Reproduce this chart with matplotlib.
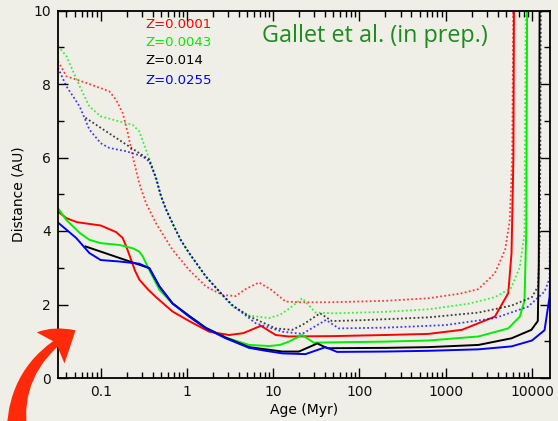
import matplotlib
matplotlib.use("Agg")
import matplotlib.pyplot as plt
from matplotlib.patches import FancyArrowPatch
from matplotlib.ticker import LogLocator, FixedLocator, NullFormatter, FixedFormatter

# ---------------- data ----------------
labels = ["Z=0.0001", "Z=0.0043", "Z=0.014", "Z=0.0255"]
colors = ["#ff0000", "#00ee00", "#000000", "#0000ff"]

red_solid_x = [0.032, 0.04, 0.053, 0.1, 0.151, 0.18, 0.2, 0.225, 0.25, 0.28, 0.35, 0.438, 0.68, 1.06, 1.81, 3.08, 4.5, 7.2, 10.7, 15, 50, 200, 632, 1540, 3720, 5320, 5800, 6100, 6200]
red_solid_y = [4.53, 4.35, 4.24, 4.15, 3.97, 3.81, 3.55, 3.22, 2.92, 2.68, 2.42, 2.2, 1.81, 1.55, 1.26, 1.17, 1.22, 1.42, 1.17, 1.13, 1.14, 1.17, 1.2, 1.31, 1.67, 2.31, 3.4, 6.0, 10.5]

red_dot_x = [0.032, 0.04, 0.068, 0.126, 0.151, 0.18, 0.206, 0.235, 0.28, 0.335, 0.438, 0.68, 1.06, 1.66, 2.58, 3.68, 4.8, 6.85, 9.5, 13.9, 20, 44, 200, 632, 1500, 2400, 3720, 4900, 5540, 5900, 6100]
red_dot_y = [8.62, 8.21, 8.03, 7.8, 7.57, 7.21, 6.67, 6.03, 5.3, 4.76, 4.21, 3.49, 2.94, 2.49, 2.26, 2.23, 2.42, 2.6, 2.4, 2.08, 2.06, 2.06, 2.1, 2.17, 2.3, 2.42, 2.85, 3.5, 4.3, 6.0, 10.5]

green_solid_x = [0.032, 0.04, 0.057, 0.074, 0.1, 0.165, 0.235, 0.28, 0.307, 0.366, 0.48, 0.68, 1.06, 1.66, 2.82, 5.25, 8.95, 12, 15.2, 21.7, 29.6, 50, 200, 632, 2400, 5320, 7240, 8200, 8600, 8800]
green_solid_y = [4.62, 4.3, 3.95, 3.76, 3.67, 3.62, 3.53, 3.44, 3.31, 2.94, 2.4, 2.03, 1.69, 1.37, 1.1, 0.9, 0.87, 0.9, 0.99, 1.17, 0.96, 0.97, 0.99, 1.02, 1.13, 1.35, 1.67, 2.1, 4.0, 10.5]

green_dot_x = [0.032, 0.04, 0.057, 0.074, 0.1, 0.165, 0.235, 0.28, 0.335, 0.4, 0.5, 0.57, 0.68, 0.85, 1.06, 1.66, 2.58, 3.37, 5.25, 8.95, 12, 15.2, 21.7, 31, 50, 200, 632, 1840, 3720, 5700, 7200, 8200, 8500]
green_dot_y = [9.03, 8.76, 7.94, 7.39, 7.12, 6.98, 6.89, 6.71, 6.21, 5.7, 4.95, 4.6, 4.21, 3.75, 3.4, 2.76, 2.26, 1.94, 1.7, 1.63, 1.72, 1.88, 2.17, 1.78, 1.76, 1.8, 1.87, 2.02, 2.2, 2.44, 3.0, 3.94, 10.5]

black_solid_x = [0.0667, 0.366, 0.48, 0.68, 1.06, 1.66, 2.82, 5.25, 12.8, 19.9, 32.5, 42.4, 200, 632, 2400, 5800, 9850, 11700, 12000, 12300]
black_solid_y = [3.58, 2.99, 2.49, 2.03, 1.69, 1.36, 1.1, 0.84, 0.72, 0.72, 0.94, 0.81, 0.82, 0.84, 0.9, 1.08, 1.31, 1.55, 3.0, 10.5]

black_dot_x = [0.0667, 0.366, 0.438, 0.5, 0.57, 0.68, 0.85, 1.06, 1.66, 2.58, 3.37, 5.25, 10.7, 16.6, 22, 35, 48, 100, 632, 2400, 5800, 10000, 11800, 12400, 12700]
black_dot_y = [7.08, 5.94, 5.45, 4.95, 4.6, 4.21, 3.75, 3.4, 2.76, 2.26, 1.98, 1.68, 1.35, 1.31, 1.45, 1.76, 1.55, 1.57, 1.65, 1.78, 1.97, 2.2, 2.5, 4.0, 10.5]

blue_solid_x = [0.032, 0.052, 0.074, 0.1, 0.165, 0.28, 0.366, 0.48, 0.68, 1.06, 1.66, 2.82, 5.25, 8.2, 12.8, 23.7, 40.5, 55, 200, 632, 2400, 5800, 10000, 14000, 16000, 17000]
blue_solid_y = [4.23, 3.81, 3.4, 3.21, 3.17, 3.11, 2.99, 2.49, 2.03, 1.67, 1.35, 1.08, 0.82, 0.74, 0.67, 0.65, 0.84, 0.71, 0.72, 0.74, 0.78, 0.86, 1.02, 1.3, 2.2, 4.0]

blue_dot_x = [0.032, 0.04, 0.057, 0.074, 0.1, 0.126, 0.197, 0.307, 0.366, 0.438, 0.5, 0.57, 0.68, 0.85, 1.06, 1.66, 2.58, 3.37, 6.27, 12.8, 21.7, 41, 57.6, 200, 1000, 3720, 9000, 14000, 16000, 16300]
blue_dot_y = [8.44, 7.94, 7.39, 6.76, 6.39, 6.26, 6.17, 6.03, 5.89, 5.45, 4.95, 4.6, 4.21, 3.75, 3.4, 2.76, 2.26, 1.98, 1.49, 1.26, 1.2, 1.58, 1.35, 1.37, 1.44, 1.63, 1.94, 2.35, 2.7, 6.0]

x_ticks = [0.1, 1, 10, 100, 1000, 10000]
x_ticklabels = ["0.1", "1", "10", "100", "1000", "10000"]
y_ticks = [0, 2, 4, 6, 8, 10]

title_text = "Gallet et al. (in prep.)"
xlabel = "Age (Myr)"
ylabel = "Distance (AU)"

# ---------------- figure ----------------
bg = "#f0efe7"
W, H = 558, 421
fig = plt.figure(figsize=(W / 100, H / 100), dpi=100, facecolor=bg)
ax = fig.add_axes([58 / W, 1 - 378 / H, (550 - 58) / W, (378 - 10.5) / H])
ax.set_facecolor(bg)

solid_lw = 1.4
dot_ls = (0, (1.0, 1.3))
dot_lw = 1.3

series = [
    (red_solid_x, red_solid_y, red_dot_x, red_dot_y, colors[0]),
    (green_solid_x, green_solid_y, green_dot_x, green_dot_y, colors[1]),
    (black_solid_x, black_solid_y, black_dot_x, black_dot_y, colors[2]),
    (blue_solid_x, blue_solid_y, blue_dot_x, blue_dot_y, colors[3]),
]
for sx, sy, dx, dy, c in series:
    ax.plot(dx, dy, color=c, lw=dot_lw, ls=dot_ls, alpha=0.75)
    ax.plot(sx, sy, color=c, lw=solid_lw)

ax.set_xscale("log")
ax.set_xlim(0.032, 16200)
ax.set_ylim(0, 10)

ax.xaxis.set_major_locator(FixedLocator(x_ticks))
ax.xaxis.set_major_formatter(FixedFormatter(x_ticklabels))
ax.xaxis.set_minor_locator(LogLocator(base=10, subs=range(2, 10), numticks=20))
ax.xaxis.set_minor_formatter(NullFormatter())
ax.set_yticks(y_ticks)
ax.set_yticks(range(0, 11), minor=True)

ax.tick_params(which="both", direction="in", top=True, right=True, color="black", width=1.0)
ax.tick_params(which="major", length=7, labelsize=10, pad=5, labelcolor="#111111")
ax.tick_params(which="minor", length=4)
for s in ax.spines.values():
    s.set_linewidth(1.3)
    s.set_color("black")

ax.set_xlabel(xlabel, fontsize=10, labelpad=3)
ax.set_ylabel(ylabel, fontsize=10, labelpad=6)

# colour legend labels
ly = [24.3, 42.7, 61, 80]
for lab, c, yy in zip(labels, colors, ly):
    fig.text(145 / W, 1 - yy / H, lab, color=c, fontsize=9.5, va="center", ha="left")

fig.text(262 / W, 1 - 36 / H, title_text, color="#1f8a1f", fontsize=16.8,
         family="Open Sans", va="center", ha="left")

# decorative red arrow
arrow = FancyArrowPatch((19 / W, -0.07), (78 / W, 1 - 329 / H),
                        transform=fig.transFigure,
                        connectionstyle="arc3,rad=-0.36",
                        arrowstyle="fancy,head_length=2.2,head_width=3.0,tail_width=1.7",
                        mutation_scale=10, color="#ff2a0a", lw=0, clip_on=False)
fig.patches.append(arrow)

fig.savefig("out.png", dpi=100, facecolor=bg)
